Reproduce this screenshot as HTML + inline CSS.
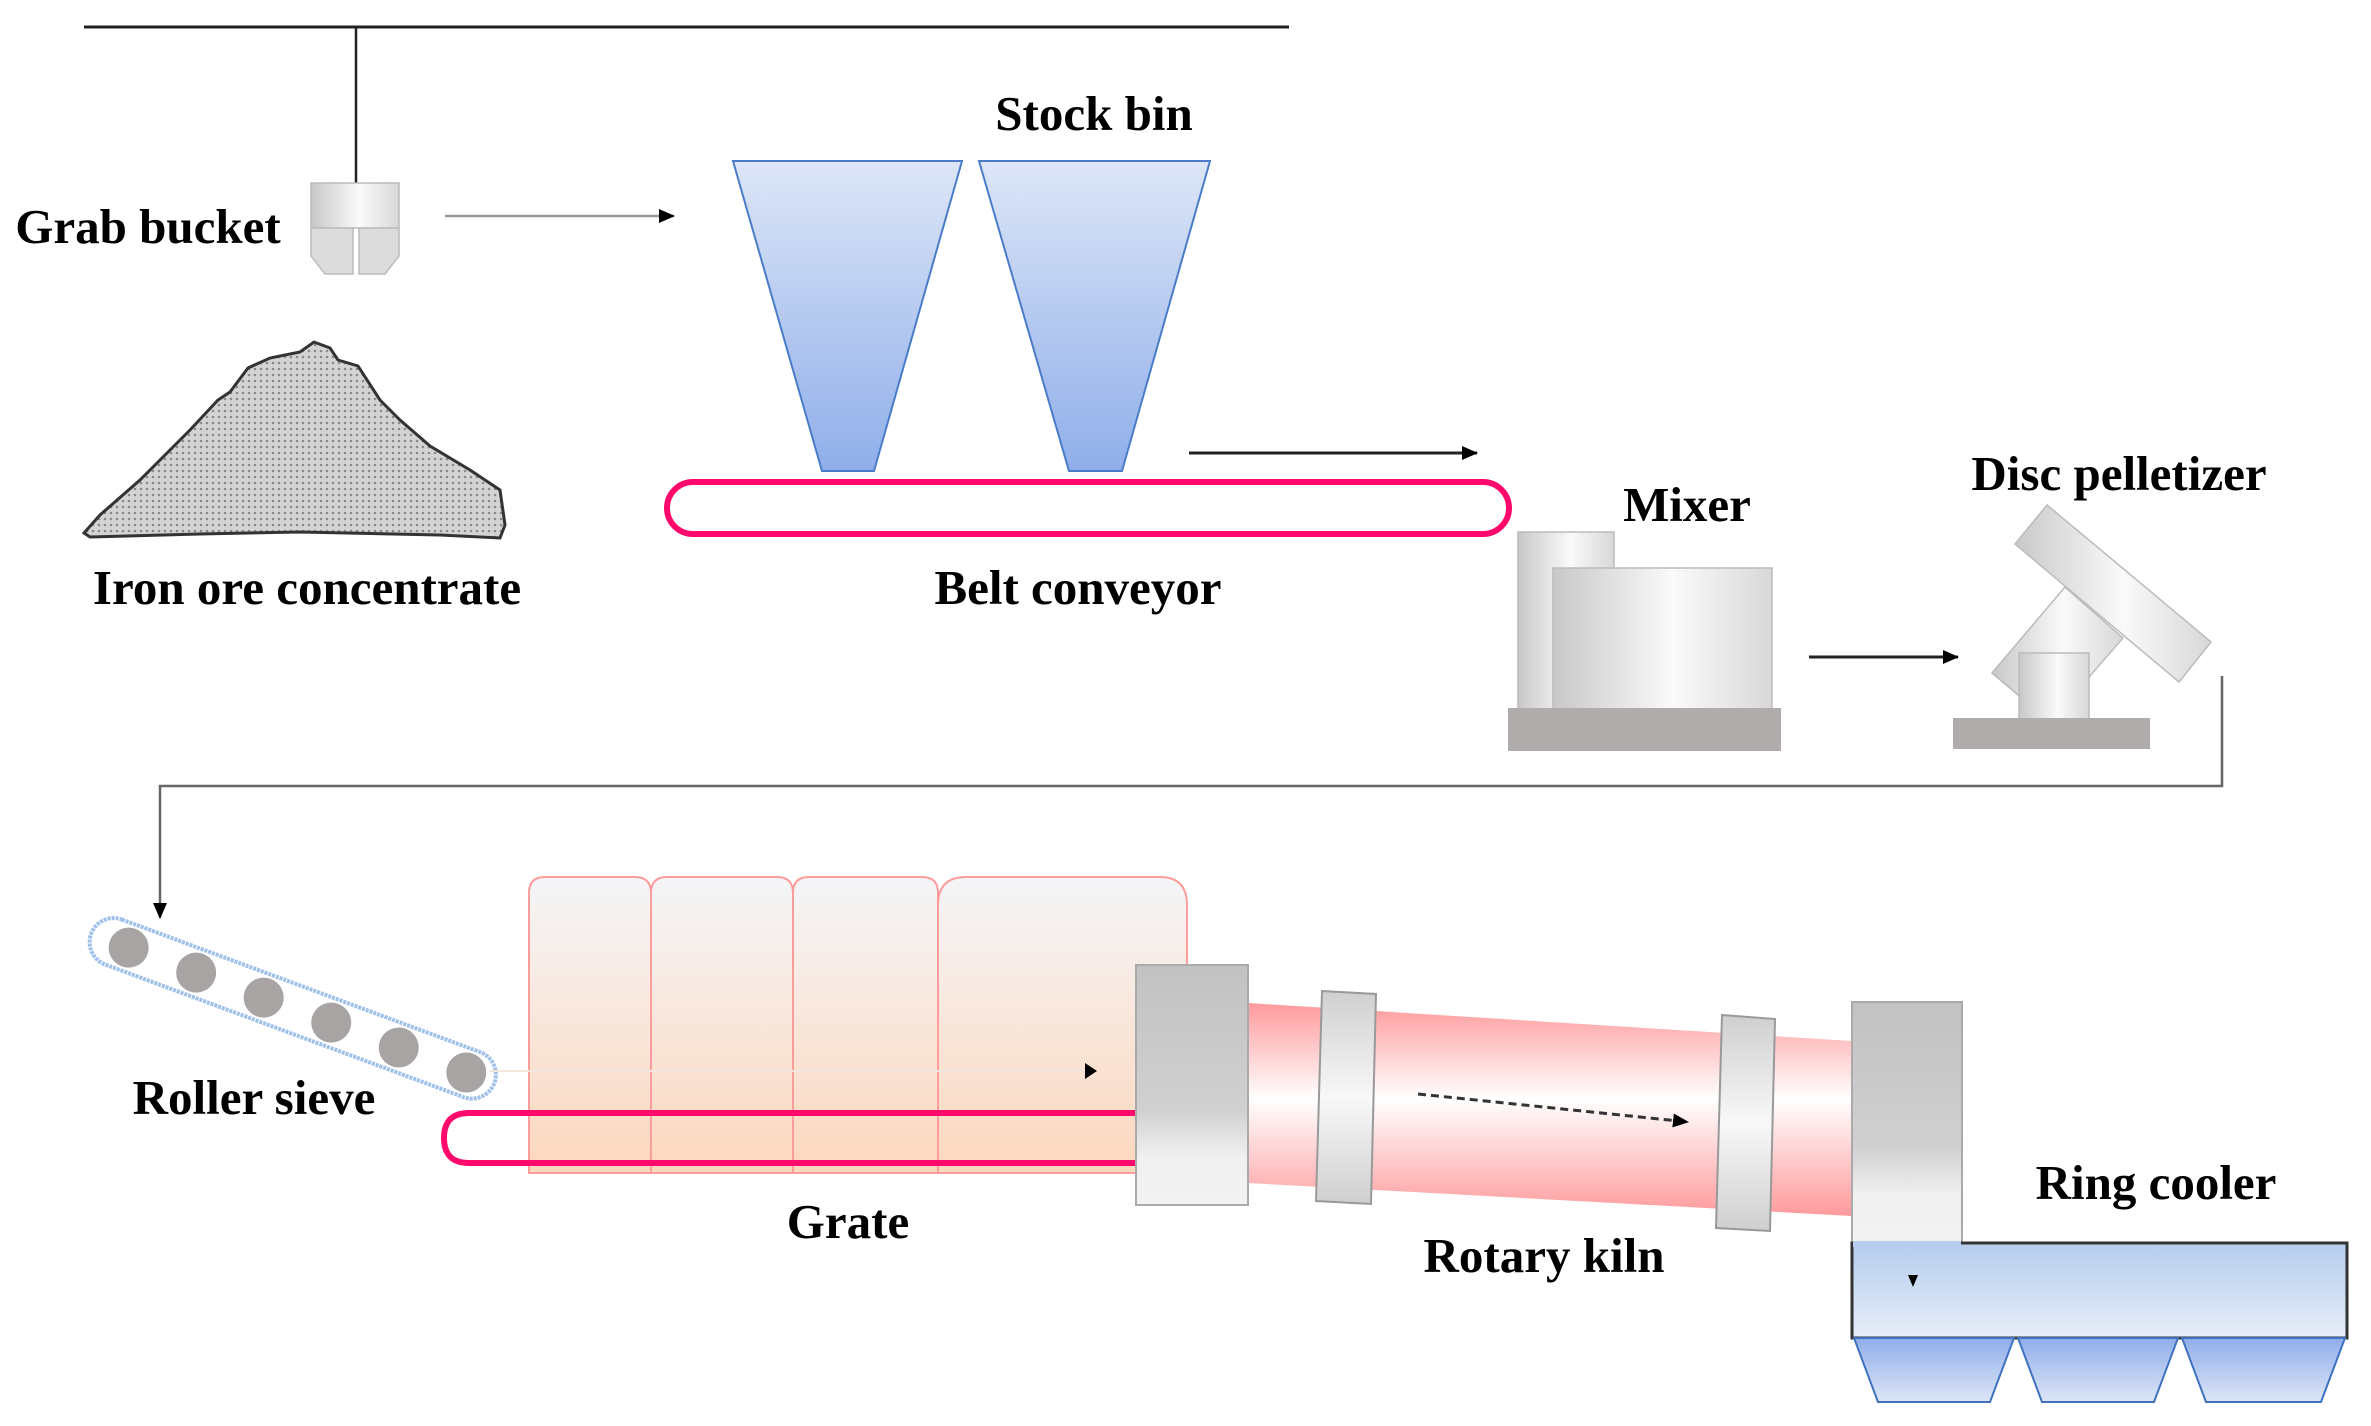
<!DOCTYPE html>
<html><head><meta charset="utf-8"><style>
html,body{margin:0;padding:0;background:#fff;}
svg{display:block;}
text{font-family:"Liberation Serif",serif;font-weight:bold;font-size:49px;fill:#000;text-anchor:middle;}
</style></head><body>
<svg width="2371" height="1426" viewBox="0 0 2371 1426" xmlns="http://www.w3.org/2000/svg">
<defs>
<linearGradient id="bin" x1="0" y1="0" x2="0" y2="1"><stop offset="0" stop-color="#dde6f7"/><stop offset="1" stop-color="#8faeea"/></linearGradient>
<linearGradient id="cyl" x1="0" y1="0" x2="1" y2="0"><stop offset="0" stop-color="#c8c8c8"/><stop offset="0.55" stop-color="#fafafa"/><stop offset="1" stop-color="#d8d8d8"/></linearGradient>
<linearGradient id="blk" x1="0" y1="0" x2="0" y2="1"><stop offset="0" stop-color="#c2c2c2"/><stop offset="0.6" stop-color="#d0d0d0"/><stop offset="0.8" stop-color="#f0f0f0"/><stop offset="1" stop-color="#f2f2f2"/></linearGradient>
<linearGradient id="kiln" x1="0" y1="0" x2="0" y2="1"><stop offset="0" stop-color="#ff9a9c"/><stop offset="0.45" stop-color="#ffffff"/><stop offset="1" stop-color="#ff9a9c"/></linearGradient>
<linearGradient id="tire" x1="0" y1="0" x2="0" y2="1"><stop offset="0" stop-color="#cfcfcf"/><stop offset="0.5" stop-color="#f8f8f8"/><stop offset="1" stop-color="#cfcfcf"/></linearGradient>
<linearGradient id="grate" x1="0" y1="0" x2="0" y2="1"><stop offset="0" stop-color="#f4f5f8"/><stop offset="1" stop-color="#fdd7bd"/></linearGradient>
<linearGradient id="cool" x1="0" y1="0" x2="0" y2="1"><stop offset="0" stop-color="#b6cdee"/><stop offset="1" stop-color="#e6edf8"/></linearGradient>
<linearGradient id="hop" x1="0" y1="0" x2="0" y2="1"><stop offset="0" stop-color="#8fadea"/><stop offset="1" stop-color="#dde6f7"/></linearGradient>
<pattern id="dots" width="6" height="6" patternUnits="userSpaceOnUse"><rect width="6" height="6" fill="#d4d4d4"/><circle cx="3" cy="3" r="1.3" fill="#8a8a8a"/></pattern>
<marker id="ah2" markerWidth="16" markerHeight="14" refX="15" refY="7" orient="auto" markerUnits="userSpaceOnUse"><path d="M0,0 L16,7 L0,14 z" fill="#000"/></marker>
</defs>

<line x1="84" y1="27" x2="1289" y2="27" stroke="#222" stroke-width="3"/>
<line x1="356" y1="27" x2="356" y2="183" stroke="#222" stroke-width="2.5"/>
<rect x="311" y="183" width="88" height="45" fill="url(#cyl)" stroke="#bbb" stroke-width="1.5"/>
<path d="M311,228 H353 V274 H325 L311,256 Z" fill="#dcdcdc" stroke="#bbb" stroke-width="1.5"/>
<path d="M359,228 H399 V256 L385,274 H359 Z" fill="#dcdcdc" stroke="#bbb" stroke-width="1.5"/>
<text x="148" y="243">Grab bucket</text>
<line x1="445" y1="216" x2="674" y2="216" stroke="#999" stroke-width="2.5" marker-end="url(#ah2)"/>

<path d="M84,533 L100,515 L140,480 L190,430 L218,400 L230,392 L248,368 L270,358 L300,352 L314,342 L330,348 L338,360 L358,366 L380,400 L400,420 L430,446 L470,470 L500,490 L505,525 L500,538 L440,535 L300,532 L200,534 L90,537 Z" fill="url(#dots)" stroke="#333" stroke-width="3"/>
<text x="307" y="604">Iron ore concentrate</text>

<text x="1094" y="130">Stock bin</text>
<polygon points="733,161 962,161 874,471 822,471" fill="url(#bin)" stroke="#4a7cc8" stroke-width="2"/>
<polygon points="979,161 1210,161 1122,471 1069,471" fill="url(#bin)" stroke="#4a7cc8" stroke-width="2"/>
<rect x="667" y="482" width="842" height="52" rx="26" fill="#fff" stroke="#ff0a6c" stroke-width="6"/>
<line x1="1189" y1="453" x2="1477" y2="453" stroke="#222" stroke-width="3" marker-end="url(#ah2)"/>
<text x="1078" y="604">Belt conveyor</text>

<text x="1687" y="521">Mixer</text>
<rect x="1518" y="532" width="96" height="178" fill="url(#cyl)" stroke="#bbb" stroke-width="1.5"/>
<rect x="1553" y="568" width="219" height="142" fill="url(#cyl)" stroke="#bbb" stroke-width="1.5"/>
<rect x="1508" y="708" width="273" height="43" fill="#b0acac"/>
<line x1="1809" y1="657" x2="1958" y2="657" stroke="#222" stroke-width="3" marker-end="url(#ah2)"/>

<text x="2119" y="490">Disc pelletizer</text>
<polygon points="1992,673 2065,587 2123,638 2050,722" fill="url(#cyl)" stroke="#bbb" stroke-width="1.5"/>
<polygon points="2047,505 2211,642 2179,682 2015,544" fill="url(#cyl)" stroke="#bbb" stroke-width="1.5"/>
<rect x="2019" y="653" width="70" height="66" fill="url(#cyl)" stroke="#bbb" stroke-width="1.5"/>
<rect x="1953" y="718" width="197" height="31" fill="#b0acac"/>

<polyline points="2222,676 2222,786 160,786 160,918" fill="none" stroke="#666" stroke-width="2.5" marker-end="url(#ah2)"/>

<g transform="translate(108,940) rotate(20.3)">
<rect x="-18" y="-24" width="430" height="48" rx="24" fill="none" stroke="#9fc0ea" stroke-width="4" stroke-dasharray="3,1"/>
<circle cx="22" cy="0" r="20" fill="#a9a4a4"/><circle cx="94" cy="0" r="20" fill="#a9a4a4"/><circle cx="166" cy="0" r="20" fill="#a9a4a4"/><circle cx="238" cy="0" r="20" fill="#a9a4a4"/><circle cx="310" cy="0" r="20" fill="#a9a4a4"/><circle cx="382" cy="0" r="20" fill="#a9a4a4"/>
</g>
<text x="254" y="1114">Roller sieve</text>

<g stroke="#ff9c9c" stroke-width="2" fill="url(#grate)">
<path d="M529,1173 V893 Q529,877 545,877 H635 Q651,877 651,893 V1173 Z"/>
<path d="M651,1173 V893 Q651,877 667,877 H777 Q793,877 793,893 V1173 Z"/>
<path d="M793,1173 V893 Q793,877 809,877 H922 Q938,877 938,893 V1173 Z"/>
<path d="M938,1173 V905 Q938,877 966,877 H1160 Q1187,877 1187,905 V1173 Z"/>
</g>
<line x1="490" y1="1071" x2="1085" y2="1071" stroke="#f3e4dc" stroke-width="2"/>
<path d="M1085,1063 L1097,1071 L1085,1079 Z" fill="#000"/>
<path d="M1136,1113 H469 Q444,1113 444,1138 Q444,1163 469,1163 H1136" fill="none" stroke="#ff0a6c" stroke-width="6"/>
<text x="848" y="1238">Grate</text>

<polygon points="1248,1003 1852,1041 1852,1216 1248,1183" fill="url(#kiln)"/>
<rect x="1136" y="965" width="112" height="240" fill="url(#blk)" stroke="#aaa" stroke-width="2"/>
<polygon points="1322,991 1376,994 1371,1204 1316,1201" fill="url(#tire)" stroke="#999" stroke-width="2"/>
<polygon points="1722,1015 1775,1019 1770,1231 1716,1228" fill="url(#tire)" stroke="#999" stroke-width="2"/>
<line x1="1418" y1="1094" x2="1688" y2="1122" stroke="#333" stroke-width="3" stroke-dasharray="8,5" marker-end="url(#ah2)"/>
<rect x="1852" y="1002" width="110" height="241" fill="url(#blk)" stroke="#aaa" stroke-width="2"/>
<text x="1544" y="1272">Rotary kiln</text>

<text x="2156" y="1199">Ring cooler</text>
<rect x="1852" y="1243" width="495" height="95" fill="url(#cool)" stroke="#333" stroke-width="3"/>
<rect x="1853" y="1241" width="108" height="6" fill="#b6cdee"/>
<path d="M1908,1275 L1918,1275 L1913,1287 Z" fill="#000"/>
<polygon points="1854,1338 2014,1338 1990,1402 1878,1402" fill="url(#hop)" stroke="#3f72c0" stroke-width="2"/>
<polygon points="2018,1338 2178,1338 2154,1402 2042,1402" fill="url(#hop)" stroke="#3f72c0" stroke-width="2"/>
<polygon points="2182,1338 2345,1338 2321,1402 2206,1402" fill="url(#hop)" stroke="#3f72c0" stroke-width="2"/>
</svg>
</body></html>
